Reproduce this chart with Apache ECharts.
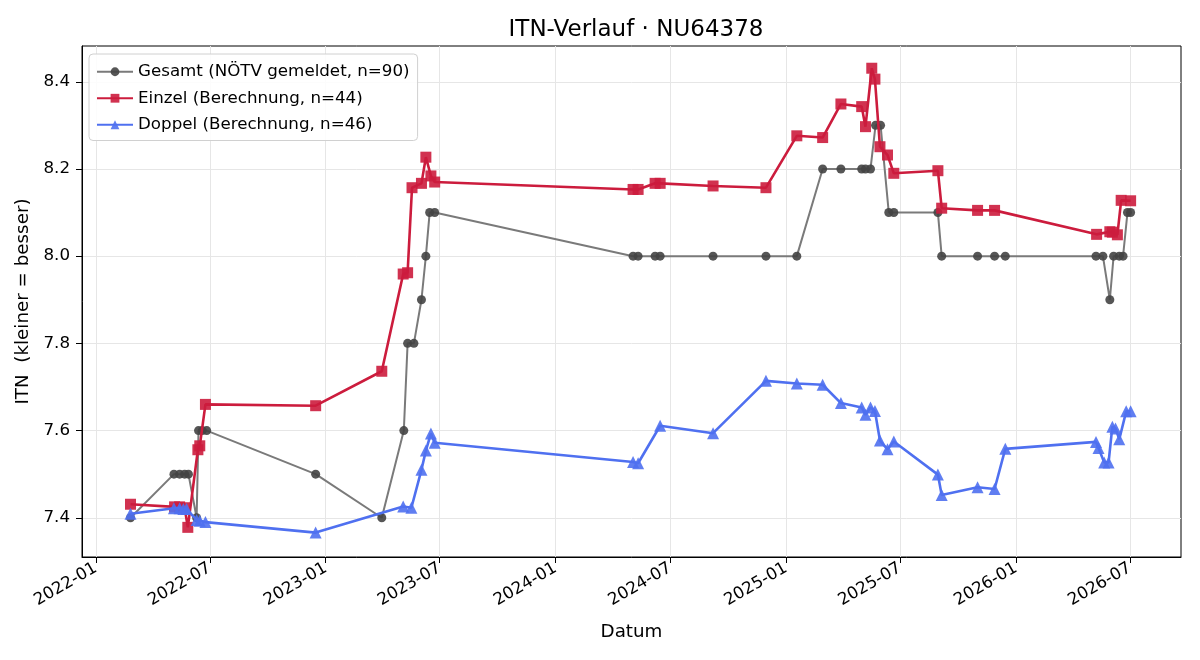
<!DOCTYPE html>
<html>
<head>
<meta charset="utf-8">
<script src="https://cdn.jsdelivr.net/npm/echarts@6/dist/echarts.min.js"></script>
<style>html,body{margin:0;padding:0;background:#fff}#c{width:1200px;height:660px}</style>
</head>
<body>
<div id="c"></div>
<script>
const xTicks = ['2022-01-01','2022-07-01','2023-01-01','2023-07-01','2024-01-01','2024-07-01','2025-01-01','2025-07-01','2026-01-01','2026-07-01'];
const yTicks = [7.4, 7.6, 7.8, 8.0, 8.2, 8.4];

const gesamtDates = ['2022-02-25','2022-05-05','2022-05-14','2022-05-22','2022-05-28','2022-06-10','2022-06-13','2022-06-19','2022-06-26','2022-12-16','2023-03-31','2023-05-05','2023-05-11','2023-05-21','2023-06-02','2023-06-09','2023-06-15','2023-06-23','2024-05-03','2024-05-11','2024-06-07','2024-06-15','2024-09-07','2024-11-30','2025-01-18','2025-02-28','2025-03-29','2025-05-01','2025-05-07','2025-05-15','2025-05-23','2025-05-31','2025-06-13','2025-06-21','2025-08-30','2025-09-05','2025-11-01','2025-11-28','2025-12-15','2026-05-08','2026-05-19','2026-05-30','2026-06-05','2026-06-14','2026-06-20','2026-06-27','2026-07-02'];
const gesamtValues = [7.4,7.5,7.5,7.5,7.5,7.4,7.6,7.6,7.6,7.5,7.4,7.6,7.8,7.8,7.9,8.0,8.1,8.1,8.0,8.0,8.0,8.0,8.0,8.0,8.0,8.2,8.2,8.2,8.2,8.2,8.3,8.3,8.1,8.1,8.1,8.0,8.0,8.0,8.0,8.0,8.0,7.9,8.0,8.0,8.0,8.1,8.1];

const einzelDates = ['2022-02-25','2022-05-06','2022-05-14','2022-05-22','2022-05-27','2022-06-12','2022-06-15','2022-06-24','2022-12-16','2023-03-31','2023-05-04','2023-05-11','2023-05-18','2023-06-02','2023-06-09','2023-06-17','2023-06-23','2024-05-03','2024-05-11','2024-06-07','2024-06-15','2024-09-07','2024-11-30','2025-01-18','2025-02-28','2025-03-29','2025-05-01','2025-05-07','2025-05-17','2025-05-22','2025-05-30','2025-06-11','2025-06-21','2025-08-30','2025-09-05','2025-11-01','2025-11-28','2026-05-09','2026-05-30','2026-06-03','2026-06-11','2026-06-17','2026-07-02'];
const einzelValues = [7.431,7.425,7.425,7.423,7.378,7.556,7.565,7.660,7.657,7.736,7.959,7.962,8.157,8.167,8.227,8.184,8.170,8.153,8.153,8.167,8.167,8.161,8.157,8.276,8.272,8.349,8.343,8.297,8.431,8.406,8.251,8.232,8.190,8.196,8.110,8.105,8.105,8.050,8.056,8.055,8.049,8.128,8.127];

const doppelDates = ['2022-02-25','2022-05-05','2022-05-14','2022-05-20','2022-05-25','2022-06-10','2022-06-15','2022-06-24','2022-12-16','2023-05-04','2023-05-17','2023-06-02','2023-06-09','2023-06-17','2023-06-23','2024-05-03','2024-05-11','2024-06-15','2024-09-07','2024-11-30','2025-01-18','2025-02-28','2025-03-29','2025-05-01','2025-05-07','2025-05-15','2025-05-22','2025-05-30','2025-06-11','2025-06-21','2025-08-30','2025-09-05','2025-11-01','2025-11-28','2025-12-15','2026-05-08','2026-05-12','2026-05-21','2026-05-28','2026-06-03','2026-06-08','2026-06-14','2026-06-25','2026-07-02'];
const doppelValues = [7.409,7.422,7.422,7.420,7.420,7.395,7.393,7.390,7.366,7.426,7.423,7.510,7.554,7.593,7.572,7.528,7.525,7.611,7.594,7.714,7.708,7.705,7.663,7.653,7.636,7.653,7.645,7.577,7.557,7.575,7.499,7.452,7.470,7.466,7.558,7.574,7.560,7.527,7.527,7.609,7.605,7.580,7.644,7.644];

const seriesNames = ['Gesamt (NÖTV gemeldet, n=90)','Einzel (Berechnung, n=44)','Doppel (Berechnung, n=46)'];

function pairs(d, v){ return d.map((s,i)=>[s, v[i]]); }
const ts = s => new Date(s + 'T00:00:00Z').getTime();
const F = 'DejaVu Sans';

const chart = echarts.init(document.getElementById('c'), null, {renderer:'canvas'});
chart.setOption({
  animation:false,
  backgroundColor:'#fff',
  title:{text:'ITN-Verlauf · NU64378', left:631, top:14, textAlign:'center',
    textStyle:{fontFamily:F, fontSize:23, fontWeight:'normal', color:'#000'}},
  grid:{left:82, right:19, top:46, bottom:103, show:true, borderColor:'#000', borderWidth:1, backgroundColor:'transparent'},
  legend:{
    left:89, top:54, orient:'vertical', itemGap:7, itemWidth:36, itemHeight:11,
    padding:[8,8,6,7], borderColor:'#d0d0d0', borderWidth:1, borderRadius:4,
    backgroundColor:'rgba(255,255,255,0.85)',
    textStyle:{fontFamily:F, fontSize:16.7, color:'#000', lineHeight:19.5},
    data: seriesNames
  },
  xAxis:{
    type:'value', min: ts('2021-12-10'), max: ts('2026-09-20'),
    name:'Datum', nameLocation:'middle', nameGap:66,
    nameTextStyle:{fontFamily:F, fontSize:18.3, color:'#000'},
    axisLine:{show:true, onZero:false, lineStyle:{color:'#000', width:1}},
    axisTick:{show:true, length:6, lineStyle:{color:'#000'}, customValues: xTicks.map(ts)},
    axisLabel:{show:true, rotate:30, fontFamily:F, fontSize:16.7, color:'#000', margin:10,
      customValues: xTicks.map(ts), hideOverlap:false,
      formatter: v => { const d = new Date(v); return d.getUTCFullYear() + '-' + String(d.getUTCMonth()+1).padStart(2,'0'); }},
    splitLine:{show:true, lineStyle:{color:'#e6e6e6', width:1}}
  },
  yAxis:{
    type:'value', min:7.31, max:8.482,
    name:'ITN  (kleiner = besser)', nameLocation:'middle', nameGap:48, nameRotate:90,
    nameTextStyle:{fontFamily:F, fontSize:18.3, color:'#000'},
    axisLine:{show:true, lineStyle:{color:'#000'}},
    axisTick:{show:true, length:6, lineStyle:{color:'#000'}, customValues: yTicks},
    axisLabel:{fontFamily:F, fontSize:16.7, color:'#000', margin:12, customValues: yTicks,
      formatter: v => v.toFixed(1)},
    splitLine:{show:true, lineStyle:{color:'#e6e6e6', width:1}}
  },
  series:[
    {name:seriesNames[0], type:'line', data:pairs(gesamtDates.map(ts), gesamtValues),
     symbol:'circle', symbolSize:9, showAllSymbol:true,
     lineStyle:{color:'#7a7a7a', width:2},
     itemStyle:{color:'#444444', opacity:0.9}, z:2},
    {name:seriesNames[1], type:'line', data:pairs(einzelDates.map(ts), einzelValues),
     symbol:'rect', symbolSize:11, showAllSymbol:true,
     lineStyle:{color:'#cc1c3d', width:2.6},
     itemStyle:{color:'#cc1c3d', opacity:0.9}, z:3},
    {name:seriesNames[2], type:'line', data:pairs(doppelDates.map(ts), doppelValues),
     symbol:'triangle', symbolSize:12, showAllSymbol:true,
     lineStyle:{color:'#4f70f0', width:2.6},
     itemStyle:{color:'#4f70f0', opacity:0.9}, z:4}
  ]
});
</script>
</body>
</html>
